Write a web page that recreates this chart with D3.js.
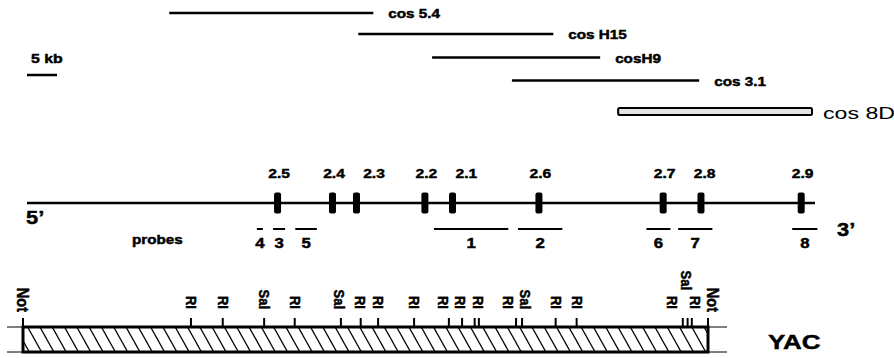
<!DOCTYPE html>
<html><head><meta charset="utf-8">
<script src="https://cdn.jsdelivr.net/npm/d3@7"></script>
<style>html,body{margin:0;padding:0;background:#fff}svg{display:block}</style>
</head><body>
<svg id="c" width="894" height="358"></svg>
<script>
// ---------- data (kb) ----------
const cosmidNames = ["cos 5.4", "cos H15", "cosH9", "cos 3.1", "cos 8D"];
const cosmidStart = [23.7, 55.2, 67.5, 80.8, 98.5];
const cosmidEnd   = [57.7, 87.7, 95.5, 112.0, 130.8];
const scaleBarKb = 5;
const geneLength = 131.3;
const exonNames = ["2.5", "2.4", "2.3", "2.2", "2.1", "2.6", "2.7", "2.8", "2.9"];
const exonPos   = [41.75, 50.9, 54.9, 66.3, 70.9, 85.3, 106.0, 112.3, 129.0];
const probeNames = ["4", "3", "5", "1", "2", "6", "7", "8"];
const probeStart = [38.3, 41.0, 44.7, 67.8, 81.8, 103.2, 108.5, 127.5];
const probeEnd   = [39.3, 43.0, 48.3, 80.2, 89.2, 107.2, 114.2, 131.7];
const yacLength = 114.2;
const yacSiteNames = ["Not","RI","RI","Sal","RI","Sal","RI","RI","RI","RI","RI","RI","RI","RI","Sal","RI","RI","RI","Sal","RI","Not"];
const yacSitePos   = [0, 28, 33.3, 40.2, 45.3, 53, 56.3, 59.2, 65.2, 71, 73.2, 75.3, 76, 82.2, 83.2, 88.8, 92.3, 110, 110.8, 111.5, 114.2];
const yacLabelNames = ["Not","RI","RI","Sal","RI","Sal","RI","RI","RI","RI","RI","RI","RI","Sal","RI","RI","RI","Sal","RI","Not"];
const yacLabelPos   = [0, 28, 33.3, 40.2, 45.3, 52.7, 56.2, 59.2, 65.2, 70, 72.8, 75.8, 80.8, 83.7, 88.8, 92.3, 108.2, 110.5, 112, 115];

// ---------- drawing ----------
const svg = d3.select("#c");
const F = "'Liberation Sans', Arial, Helvetica, sans-serif";
const x = d3.scaleLinear().domain([0, geneLength]).range([27, 815]);
const xY = d3.scaleLinear().domain([0, yacLength]).range([23, 708]);
const yCos = d3.scaleOrdinal().domain(cosmidNames).range([13, 34, 57.5, 80.5, 111.5]);

function txt(t, px, py, size, weight, sx, anchor) {
  const el = svg.append("text")
    .attr("transform", `translate(${px},${py}) scale(${sx},1)`)
    .attr("text-anchor", anchor || "start")
    .attr("font-family", F).attr("font-size", size).attr("font-weight", weight)
    .attr("fill", "#000").text(t);
  if (weight === "bold") el.attr("stroke", "#000").attr("stroke-width", 0.45);
  return el;
}

// cosmids
cosmidNames.forEach((n, i) => {
  const y = yCos(n);
  const boxed = i === cosmidNames.length - 1;
  if (boxed) {
    svg.append("rect").attr("x", x(cosmidStart[i])).attr("y", y - 3.5)
      .attr("width", x(cosmidEnd[i]) - x(cosmidStart[i])).attr("height", 7)
      .attr("rx", 1.5).attr("fill", "#e4e4e4").attr("stroke", "#000").attr("stroke-width", 2);
    txt(n, x(cosmidEnd[i]) + 11, y + 7.5, 17, "normal", 1.36);
  } else {
    svg.append("line").attr("x1", x(cosmidStart[i])).attr("x2", x(cosmidEnd[i]))
      .attr("y1", y).attr("y2", y).attr("stroke", "#000").attr("stroke-width", 2.5);
    txt(n, x(cosmidEnd[i]) + 15, y + 5, 12.5, "bold", 1.22);
  }
});

// scale bar
txt(scaleBarKb + " kb", 31, 63, 13, "bold", 1.22);
svg.append("line").attr("x1", x(0)).attr("x2", x(scaleBarKb)).attr("y1", 75).attr("y2", 75)
  .attr("stroke", "#000").attr("stroke-width", 2.5);

// gene
const gy = 203;
svg.append("line").attr("x1", x(0)).attr("x2", x(geneLength)).attr("y1", gy).attr("y2", gy)
  .attr("stroke", "#000").attr("stroke-width", 2.6);
let prevLabel = -Infinity;
exonPos.forEach((p, i) => {
  svg.append("rect").attr("x", x(p) - 3.5).attr("y", gy - 10.5).attr("width", 7).attr("height", 21)
    .attr("rx", 2).attr("fill", "#000");
  const lx = Math.max(x(p) + 1.5, prevLabel + 40);
  prevLabel = lx;
  txt(exonNames[i], lx, 178, 13, "bold", 1.2, "middle");
});
txt("5\u2019", 26, 224, 19, "bold", 1.15);
txt("3\u2019", 837, 236, 19, "bold", 1.15);

// probes
probeNames.forEach((n, i) => {
  svg.append("line").attr("x1", x(probeStart[i])).attr("x2", x(probeEnd[i])).attr("y1", 229).attr("y2", 229)
    .attr("stroke", "#000").attr("stroke-width", 2);
  txt(n, (x(probeStart[i]) + x(probeEnd[i])) / 2, 248, 14, "bold", 1.2, "middle");
});
txt("probes", 132, 244, 12.5, "bold", 1.22);

// YAC
const yt = 327, yb = 352;
[yt, yb].forEach(yy => svg.append("line").attr("x1", 7).attr("x2", 727).attr("y1", yy).attr("y2", yy)
  .attr("stroke", "#000").attr("stroke-width", 1));
svg.append("clipPath").attr("id", "yclip").append("rect")
  .attr("x", xY(0)).attr("y", yt).attr("width", xY(yacLength) - xY(0)).attr("height", yb - yt);
const hg = svg.append("g").attr("clip-path", "url(#yclip)");
for (let hx = xY(0) - 20; hx < xY(yacLength) + 5; hx += 12.3) {
  hg.append("line").attr("x1", hx).attr("y1", yt).attr("x2", hx + 14).attr("y2", yb)
    .attr("stroke", "#000").attr("stroke-width", 1.3);
}
svg.append("rect").attr("x", xY(0)).attr("y", yt).attr("width", xY(yacLength) - xY(0)).attr("height", yb - yt)
  .attr("fill", "none").attr("stroke", "#000").attr("stroke-width", 3);
yacSitePos.forEach(p => {
  svg.append("line").attr("x1", xY(p)).attr("x2", xY(p)).attr("y1", 318).attr("y2", yt)
    .attr("stroke", "#000").attr("stroke-width", 2);
});
yacLabelNames.forEach((n, i) => {
  const px = xY(yacLabelPos[i]);
  const next = i < yacLabelPos.length - 1 ? xY(yacLabelPos[i + 1]) : Infinity;
  const raised = next - px < 12;
  const bottom = n === "Not" ? 312 : (raised ? 290 : 309);
  svg.append("text")
    .attr("transform", `translate(${px},${bottom}) scale(1.12,1) rotate(90)`)
    .attr("text-anchor", "end").attr("dy", "0.35em")
    .attr("font-family", F).attr("font-size", n === "Not" ? 14.5 : 13).attr("font-weight", "bold")
    .attr("stroke", "#000").attr("stroke-width", 0.45)
    .text(n);
});
txt("YAC", 768, 349, 20, "bold", 1.3);
</script>
</body></html>
